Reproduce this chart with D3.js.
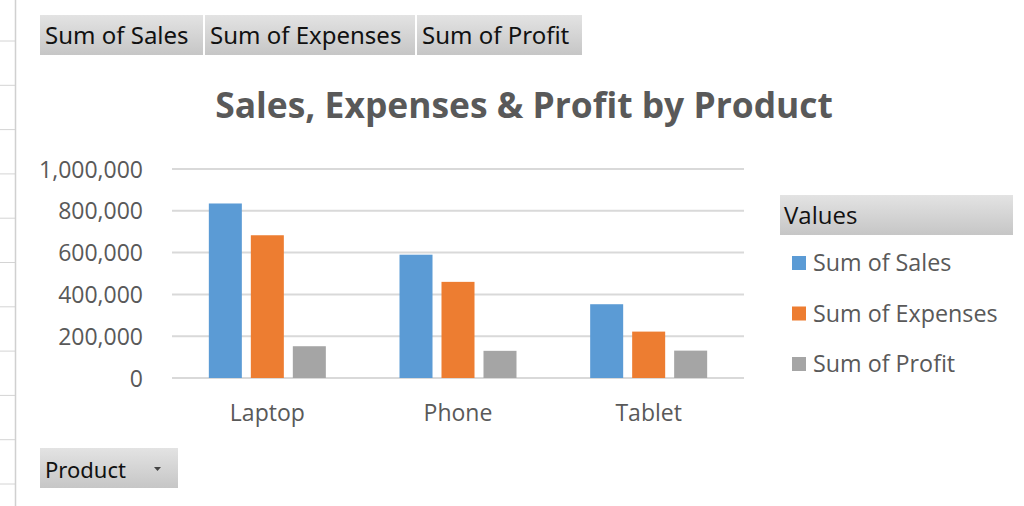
<!DOCTYPE html>
<html>
<head>
<meta charset="utf-8">
<script src="https://cdn.jsdelivr.net/npm/d3@7"></script>
<style>
  html, body { margin: 0; padding: 0; background: #ffffff; }
  svg { display: block; }
</style>
</head>
<body>
<svg id="chart" width="1024" height="506"></svg>
<script>
// ---- data ----
const categories = ["Laptop", "Phone", "Tablet"];
const seriesNames = ["Sum of Sales", "Sum of Expenses", "Sum of Profit"];
const sales    = [835000, 590000, 353000];
const expenses = [683000, 460000, 222000];
const profit   = [152000, 130000, 131000];
const yTicks   = [0, 200000, 400000, 600000, 800000, 1000000];
const fieldButtons = ["Sum of Sales", "Sum of Expenses", "Sum of Profit"];
const titleText = "Sales, Expenses & Profit by Product";
const legendTitle = "Values";
const axisFieldButton = "Product";

const seriesValues = [sales, expenses, profit];
const colors = ["#5b9bd5", "#ed7d31", "#a5a5a5"];

const svg = d3.select("#chart");
const FONT = "'Open Sans', 'Noto Sans', sans-serif";
const BTNFONT = "'Noto Sans', 'DejaVu Sans', sans-serif";

// gradient for field buttons
const defs = svg.append("defs");
const grad = defs.append("linearGradient").attr("id", "btnGrad")
  .attr("x1", 0).attr("y1", 0).attr("x2", 0).attr("y2", 1);
grad.append("stop").attr("offset", "0%").attr("stop-color", "#e3e3e3");
grad.append("stop").attr("offset", "100%").attr("stop-color", "#c6c6c6");

// spreadsheet cell edges on the left
const cellLines = d3.range(11).map(i => 41 + i * 44.3);
svg.append("g").selectAll("line").data(cellLines).join("line")
  .attr("x1", 0).attr("x2", 15).attr("y1", d => d).attr("y2", d => d)
  .attr("stroke", "#d4d4d4").attr("stroke-width", 1);
svg.append("line").attr("x1", 15.5).attr("x2", 15.5).attr("y1", 0).attr("y2", 506)
  .attr("stroke", "#d0d0d0").attr("stroke-width", 1.5);

// top field buttons
const btnX = [40, 205, 417], btnW = [163, 210, 165];
const btn = svg.append("g").selectAll("g").data(fieldButtons).join("g");
btn.append("rect").attr("x", (d, i) => btnX[i]).attr("y", 15)
  .attr("width", (d, i) => btnW[i]).attr("height", 40).attr("fill", "url(#btnGrad)");
btn.append("text").attr("x", (d, i) => btnX[i] + 5).attr("y", 44)
  .attr("font-family", BTNFONT).attr("font-size", 24).attr("fill", "#111")
  .text(d => d);

// title
svg.append("text").attr("x", 524).attr("y", 118).attr("text-anchor", "middle")
  .attr("font-family", FONT).attr("font-weight", "bold").attr("font-size", 35.4)
  .attr("fill", "#595959").text(titleText);

// scales
const x0 = d3.scaleBand().domain(categories).range([172, 744]).padding(0);
const groupW = 117;
const x1 = d3.scaleBand().domain(seriesNames)
  .range([(x0.bandwidth() - groupW) / 2, (x0.bandwidth() + groupW) / 2])
  .paddingInner(0.214);
const y = d3.scaleLinear().domain([0, 1000000]).range([378, 169]);

// y axis labels
const yAxis = d3.axisLeft(y).tickValues(yTicks).tickSize(0).tickPadding(0)
  .tickFormat(d3.format(","));
const gy = svg.append("g").attr("transform", "translate(143,0)").call(yAxis);
gy.select(".domain").remove();
gy.selectAll("text").attr("font-family", FONT).attr("font-size", 23)
  .attr("fill", "#595959").attr("dy", "0.35em");

// gridlines
svg.append("g").selectAll("line").data(yTicks).join("line")
  .attr("x1", 172).attr("x2", 744)
  .attr("y1", d => y(d)).attr("y2", d => y(d))
  .attr("stroke", "#d9d9d9").attr("stroke-width", 2);

// bars
const groups = svg.append("g").selectAll("g").data(categories).join("g")
  .attr("transform", d => `translate(${x0(d)},0)`);
groups.selectAll("rect")
  .data((c, ci) => seriesNames.map((s, si) => ({ s, si, v: seriesValues[si][ci] })))
  .join("rect")
  .attr("x", d => x1(d.s)).attr("width", x1.bandwidth())
  .attr("y", d => y(d.v)).attr("height", d => y(0) - y(d.v))
  .attr("fill", d => colors[d.si]);

// x axis labels
const xAxis = d3.axisBottom(x0).tickSize(0).tickPadding(0);
const gx = svg.append("g").attr("transform", "translate(0,421)").call(xAxis);
gx.select(".domain").remove();
gx.selectAll("text").attr("font-family", FONT).attr("font-size", 23)
  .attr("fill", "#595959").attr("dy", 0);

// legend
svg.append("rect").attr("x", 780).attr("y", 195).attr("width", 233).attr("height", 40)
  .attr("fill", "url(#btnGrad)");
svg.append("text").attr("x", 784).attr("y", 224).attr("font-family", FONT)
  .attr("font-size", 24).attr("fill", "#111").text(legendTitle);
const leg = svg.append("g").selectAll("g").data(seriesNames).join("g")
  .attr("transform", (d, i) => `translate(792,${263 + i * 50.5})`);
leg.append("rect").attr("x", 0).attr("y", -7).attr("width", 14).attr("height", 14)
  .attr("fill", (d, i) => colors[i]);
leg.append("text").attr("x", 21).attr("y", 0).attr("dy", "0.35em")
  .attr("font-family", FONT).attr("font-size", 23.3).attr("fill", "#595959").text(d => d);

// axis field button
svg.append("rect").attr("x", 40).attr("y", 448).attr("width", 138).attr("height", 40)
  .attr("fill", "url(#btnGrad)");
svg.append("text").attr("x", 45).attr("y", 478).attr("font-family", BTNFONT)
  .attr("font-size", 22).attr("fill", "#111").text(axisFieldButton);
svg.append("path").attr("d", d3.line()([[154, 467], [161, 467], [157.5, 471]]) + "Z")
  .attr("fill", "#444");
</script>
</body>
</html>
